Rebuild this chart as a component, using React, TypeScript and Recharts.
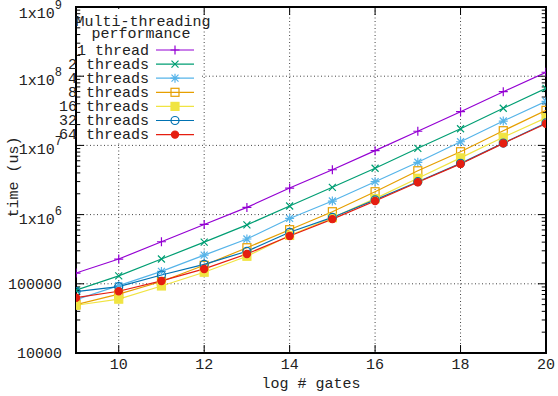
import React from 'react';
import {
  LineChart, Line, XAxis, YAxis, CartesianGrid, Legend,
  ReferenceLine, ReferenceArea,
} from 'recharts';

// log2 of the gate count
const gates = [9, 10, 11, 12, 13, 14, 15, 16, 17, 18, 19, 20];

// time in microseconds, one list per thread count
const oneThread = [1.43e5, 2.28e5, 4.05e5, 7.2e5, 1.27e6, 2.42e6, 4.45e6, 8.4e6, 1.6e7, 3.07e7, 5.97e7, 1.14e8];
const twoThreads = [8.1e4, 1.3e5, 2.28e5, 4.0e5, 7.1e5, 1.33e6, 2.48e6, 4.67e6, 9.08e6, 1.74e7, 3.44e7, 6.68e7];
const fourThreads = [5.9e4, 9.4e4, 1.51e5, 2.6e5, 4.44e5, 8.8e5, 1.57e6, 2.99e6, 5.7e6, 1.13e7, 2.25e7, 4.34e7];
const eightThreads = [5.0e4, 7.1e4, 1.08e5, 1.85e5, 3.32e5, 6.05e5, 1.1e6, 2.14e6, 4.3e6, 8.1e6, 1.63e7, 3.21e7];
const sixteenThreads = [4.9e4, 6.0e4, 9.3e4, 1.47e5, 2.5e5, 5.0e5, 9.0e5, 1.7e6, 3.35e6, 6.6e6, 1.31e7, 2.51e7];
const thirtyTwoThreads = [7.7e4, 9.1e4, 1.34e5, 1.91e5, 2.95e5, 5.55e5, 9.1e5, 1.63e6, 2.99e6, 5.5e6, 1.08e7, 2.11e7];
const sixtyFourThreads = [6.3e4, 7.8e4, 1.1e5, 1.64e5, 2.7e5, 4.9e5, 8.6e5, 1.57e6, 2.93e6, 5.4e6, 1.07e7, 2.06e7];

const xTicks = [10, 12, 14, 16, 18, 20];
const yTicks = [1e4, 1e5, 1e6, 1e7, 1e8, 1e9];

const FONT = "'Liberation Mono', 'DejaVu Sans Mono', monospace";
const INK = '#222';

const series = [
  { key: 't1', name: '1 thread', values: oneThread, color: '#9400d3', shape: 'plus' },
  { key: 't2', name: '2 threads', values: twoThreads, color: '#009e73', shape: 'cross' },
  { key: 't4', name: '4 threads', values: fourThreads, color: '#56b4e9', shape: 'star' },
  { key: 't8', name: '8 threads', values: eightThreads, color: '#e69f00', shape: 'square' },
  { key: 't16', name: '16 threads', values: sixteenThreads, color: '#f0e442', shape: 'fsquare' },
  { key: 't32', name: '32 threads', values: thirtyTwoThreads, color: '#0072b2', shape: 'circle' },
  { key: 't64', name: '64 threads', values: sixtyFourThreads, color: '#e51e10', shape: 'fcircle' },
];

const data = gates.map((g, i) => {
  const row: Record<string, number> = { gates: g };
  series.forEach(s => { row[s.key] = s.values[i]; });
  return row;
});

// minor ticks of the log axis: 2..9 in every decade
const minorY: number[] = [];
for (let d = 4; d < 9; d++) {
  for (let k = 2; k <= 9; k++) minorY.push(k * Math.pow(10, d));
}

const Marker = ({ shape, cx, cy, color }: { shape: string; cx: number; cy: number; color: string }) => {
  const sw = 1.2;
  switch (shape) {
    case 'plus':
      return <path d={`M${cx - 4.5},${cy}H${cx + 4.5}M${cx},${cy - 4.5}V${cy + 4.5}`} stroke={color} strokeWidth={sw} />;
    case 'cross':
      return <path d={`M${cx - 3.5},${cy - 3.5}L${cx + 3.5},${cy + 3.5}M${cx - 3.5},${cy + 3.5}L${cx + 3.5},${cy - 3.5}`} stroke={color} strokeWidth={sw} />;
    case 'star':
      return <path d={`M${cx - 4.5},${cy}H${cx + 4.5}M${cx},${cy - 4.5}V${cy + 4.5}M${cx - 3.5},${cy - 3.5}L${cx + 3.5},${cy + 3.5}M${cx - 3.5},${cy + 3.5}L${cx + 3.5},${cy - 3.5}`} stroke={color} strokeWidth={sw} />;
    case 'square':
      return <rect x={cx - 4} y={cy - 4} width={8} height={8} fill="none" stroke={color} strokeWidth={sw} />;
    case 'fsquare':
      return <rect x={cx - 4} y={cy - 4} width={8} height={8} fill={color} stroke={color} strokeWidth={sw} />;
    case 'circle':
      return <circle cx={cx} cy={cy} r={4} fill="none" stroke={color} strokeWidth={sw} />;
    default:
      return <circle cx={cx} cy={cy} r={3.6} fill={color} stroke={color} strokeWidth={sw} />;
  }
};

const YTick = (props: any) => {
  const { x, y, payload } = props;
  const v = payload.value as number;
  const e = Math.round(Math.log10(v));
  if (e <= 5) {
    return (
      <text x={x - 6} y={y + 5} textAnchor="end" fontFamily={FONT} fontSize={15} fill={INK}>{String(v)}</text>
    );
  }
  return (
    <text x={x - 6} y={y + 9} textAnchor="end" fontFamily={FONT} fontSize={15} fill={INK}>
      <tspan>1x10</tspan>
      <tspan dy={-9} fontSize={12}>{e}</tspan>
    </text>
  );
};

const XTick = (props: any) => {
  const { x, y, payload } = props;
  return (
    <text x={x} y={y + 8} textAnchor="middle" fontFamily={FONT} fontSize={15} fill={INK}>{payload.value}</text>
  );
};

const YLabel = (props: any) => {
  const { viewBox } = props;
  const cy = viewBox.y + viewBox.height / 2 - 3;
  return (
    <text x={14} y={cy} transform={`rotate(-90 14 ${cy})`} textAnchor="middle" dominantBaseline="central"
      fontFamily={FONT} fontSize={15} fill={INK}>time (us)</text>
  );
};

const KeyBox = () => (
  <svg width={210} height={150} style={{ display: 'block', overflow: 'visible' }}>
    <rect x={84} y={9} width={117} height={132} fill="#fff" />
    <text x={143} y={26} textAnchor="middle" fontFamily={FONT} fontSize={15} fill={INK}>Multi-threading</text>
    <text x={141} y={38} textAnchor="middle" fontFamily={FONT} fontSize={15} fill={INK}>performance</text>
    {series.map((s, i) => {
      const cy = 50 + i * 14.1;
      return (
        <g key={s.key}>
          <text x={149} y={cy + 4.5} textAnchor="end" fontFamily={FONT} fontSize={15} fill={INK}>{s.name}</text>
          <line x1={156} x2={194} y1={cy} y2={cy} stroke={s.color} strokeWidth={1.2} />
          <Marker shape={s.shape} cx={175} cy={cy} color={s.color} />
        </g>
      );
    })}
  </svg>
);

const tickLen = 0.19;
const minorLen = 0.1;
const xTickF = Math.pow(10, 8 / 69.2);

export default function App() {
  return (
    <div style={{ position: 'absolute', left: 0, top: 0, width: 558, height: 396, background: '#fff' }}>
      <LineChart width={558} height={396} data={data} margin={{ top: 7, right: 12, bottom: 0, left: 0 }}>
        <CartesianGrid stroke="#444" strokeDasharray="1 2.5" strokeWidth={1} />
        <XAxis
          dataKey="gates" type="number" domain={[9, 20]} ticks={xTicks} height={43}
          axisLine={false} tickLine={false} tick={<XTick />} allowDataOverflow
          label={{ value: 'log # gates', position: 'insideBottom', offset: 8, fontFamily: FONT, fontSize: 15, fill: INK }}
        />
        <YAxis
          type="number" scale="log" domain={[1e4, 1e9]} ticks={yTicks} width={76}
          axisLine={false} tickLine={false} tick={<YTick />} allowDataOverflow
          label={<YLabel />}
        />
        {minorY.map(v => (
          <ReferenceLine key={`ml${v}`} segment={[{ x: 9, y: v }, { x: 9 + minorLen, y: v }]} stroke="#000" ifOverflow="visible" />
        ))}
        {minorY.map(v => (
          <ReferenceLine key={`mr${v}`} segment={[{ x: 20 - minorLen, y: v }, { x: 20, y: v }]} stroke="#000" ifOverflow="visible" />
        ))}
        {yTicks.map(v => (
          <ReferenceLine key={`yl${v}`} segment={[{ x: 9, y: v }, { x: 9 + tickLen, y: v }]} stroke="#000" ifOverflow="visible" />
        ))}
        {yTicks.map(v => (
          <ReferenceLine key={`yr${v}`} segment={[{ x: 20 - tickLen, y: v }, { x: 20, y: v }]} stroke="#000" ifOverflow="visible" />
        ))}
        {xTicks.map(v => (
          <ReferenceLine key={`xb${v}`} segment={[{ x: v, y: 1e4 }, { x: v, y: 1e4 * xTickF }]} stroke="#000" ifOverflow="visible" />
        ))}
        {xTicks.map(v => (
          <ReferenceLine key={`xt${v}`} segment={[{ x: v, y: 1e9 / xTickF }, { x: v, y: 1e9 }]} stroke="#000" ifOverflow="visible" />
        ))}
        <ReferenceArea x1={9} x2={20} y1={1e4} y2={1e9} fill="none" fillOpacity={0} stroke="#000" strokeWidth={2} ifOverflow="visible" />
        {series.map(s => (
          <Line
            key={s.key} dataKey={s.key} name={s.name} type="linear" stroke={s.color} strokeWidth={1.2}
            isAnimationActive={false}
            dot={(p: any) => <Marker key={`${s.key}-${p.index}`} shape={s.shape} cx={p.cx} cy={p.cy} color={s.color} />}
          />
        ))}
        <Legend
          layout="vertical" align="center" verticalAlign="middle"
          wrapperStyle={{ position: 'absolute', left: 0, top: 0, width: 210, height: 150 }}
          content={() => <KeyBox />}
        />
      </LineChart>
    </div>
  );
}
